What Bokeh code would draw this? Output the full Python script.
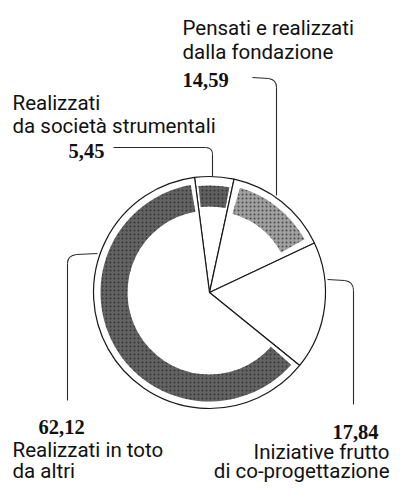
import numpy as np
from bokeh.plotting import figure
from bokeh.models import Range1d
from bokeh.core.properties import value
from bokeh.embed import file_html
from bokeh.resources import INLINE

# ---- data ----
categories = ["Realizzati da società strumentali",
              "Pensati e realizzati dalla fondazione",
              "Iniziative frutto di co-progettazione",
              "Realizzati in toto da altri"]
values = [5.45, 14.59, 17.84, 62.12]
value_labels = ["5,45", "14,59", "17,84", "62,12"]
shaded = [True, True, False, True]
ring_shades = ["#606060", "#a0a0a0", None, "#636363"]

W, H = 391, 483
IMG_H = 499
def Y(yimg):
    return IMG_H - yimg

p = figure(width=W, height=H, output_backend="svg", toolbar_location=None,
           x_range=Range1d(0, W), y_range=Range1d(IMG_H - H, IMG_H),
           min_border=0)
p.axis.visible = False
p.grid.visible = False
p.outline_line_color = None
p.background_fill_color = "white"

cx, cy = 209, Y(292)
R = 116
r_in, r_out = 82, 109
start_cw = -7.4  # degrees clockwise from 12 o'clock

vals = np.array(values)
fr = vals / vals.sum() * 360.0
ends = start_cw + np.cumsum(fr)
starts = ends - fr

def math_rad(theta_cw):
    return np.deg2rad(90.0 - theta_cw)

# pie slices
p.wedge(x=cx, y=cy, radius=R,
        start_angle=math_rad(ends), end_angle=math_rad(starts),
        fill_color="white", line_color="#1a1a1a", line_width=1.2)

# stippled rings
insets = [1.5, 4.0, 0, 2.5]
for i in range(len(values)):
    if not shaded[i]:
        continue
    s = starts[i] + insets[i]
    e = ends[i] - insets[i]
    ri, ro = (r_in, r_out) if i != 0 else (86, 107)
    p.annular_wedge(x=cx, y=cy, inner_radius=ri, outer_radius=ro,
                    start_angle=math_rad(e), end_angle=math_rad(s),
                    fill_color=ring_shades[i], line_color=None,
                    hatch_pattern="dot", hatch_color="#222222",
                    hatch_scale=4, hatch_alpha=0.7)

# leader lines (image coordinates)
lc = "#2a2a2a"
def leader(points):
    xs = [q[0] for q in points]
    ys = [Y(q[1]) for q in points]
    p.line(xs, ys, line_color=lc, line_width=1.1)

# 5,45
leader([(113, 147), (205, 147)])
p.quadratic(x0=205, y0=Y(147), x1=212, y1=Y(154), cx=212, cy=Y(147), line_color=lc, line_width=1.1)
leader([(212, 154), (212, 176)])
# 14,59
leader([(252, 77), (268, 78)])
p.quadratic(x0=268, y0=Y(78), x1=276, y1=Y(87), cx=276, cy=Y(79), line_color=lc, line_width=1.1)
leader([(276, 87), (276, 195)])
# 17,84
leader([(327, 279), (344, 280)])
p.quadratic(x0=344, y0=Y(280), x1=353, y1=Y(290), cx=353, cy=Y(281), line_color=lc, line_width=1.1)
leader([(353, 290), (353, 404)])
# 62,12
leader([(97, 253), (76, 254)])
p.quadratic(x0=76, y0=Y(254), x1=67, y1=Y(263), cx=67, cy=Y(255), line_color=lc, line_width=1.1)
leader([(67, 263), (67, 400)])

# texts
sans = value("Roboto")
serif = value("Liberation Serif")
fs = "20.5px"
def txt(x, y, s, font, bold=False, align="left"):
    p.text(x=[x], y=[Y(y)], text=[s], text_font=font, text_font_size=fs,
           text_font_style="bold" if bold else "normal",
           text_color="#111111", text_baseline="alphabetic", text_align=align)

txt(182, 27, "Pensati e realizzati", sans)
txt(182, 51, "dalla fondazione", sans)
txt(182, 79, value_labels[1], serif, True)

txt(12, 102, "Realizzati", sans)
txt(12, 125, "da società strumentali", sans)
txt(68, 150, value_labels[0], serif, True)

txt(38, 426, value_labels[3], serif, True)
txt(12, 449, "Realizzati in toto", sans)
txt(12, 470, "da altri", sans)

txt(378, 431, value_labels[2], serif, True, "right")
txt(389, 451, "Iniziative frutto", sans, align="right")
txt(389, 470, "di co-progettazione", sans, align="right")

open("out.html", "w").write(file_html(p, INLINE))
